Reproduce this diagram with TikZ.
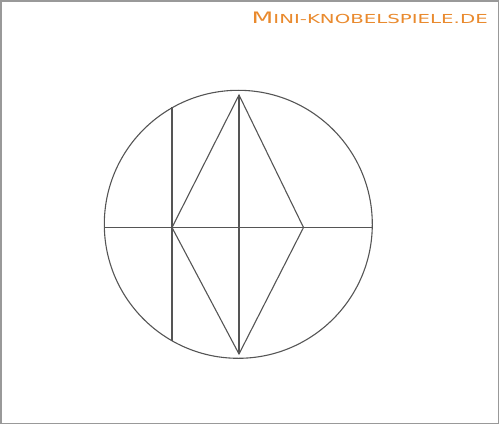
\documentclass[tikz,border=0pt]{standalone}
\usepackage{fontspec}
\setmainfont{DejaVu Sans}
\usepackage{graphicx}
\definecolor{orng}{RGB}{233,138,46}
\definecolor{linegray}{RGB}{85,85,85}
\begin{document}
\begin{tikzpicture}[x=1pt,y=-1pt,
  figline/.style={draw=linegray, line width=1.1pt, line join=miter},
  frame/.style={draw=black!40, line width=1.5pt}]
\useasboundingbox (0,0) rectangle (500,425);
\draw[frame] (1,1) rectangle (498.5,423.5);
\node[anchor=base west, inner sep=0pt, text=orng] (logo) at (251.5,23.5)
  {\resizebox{236pt}{11.5pt}{\fontsize{14}{14}\selectfont M\fontsize{11}{11}\selectfont INI-KNOBELSPIELE.DE}};
% geometry
\coordinate (O) at (238.3,224.3);
\coordinate (T) at (239,95);
\coordinate (B) at (239,354);
\coordinate (L) at (172,227.5);
\coordinate (R) at (303.5,227.5);
\coordinate (HL) at (104.3,227.5);
\coordinate (HR) at (372.3,227.5);
\coordinate (CT) at (172,107.5);
\coordinate (CB) at (172,340.5);
\draw[figline] (O) circle[radius=134];
\draw[figline] (HL) -- (HR);
\draw[figline] (CT) -- (CB);
\draw[figline] (T) -- (B);
\draw[figline] (T) -- (R) -- (B) -- (L) -- cycle;
\end{tikzpicture}
\end{document}
